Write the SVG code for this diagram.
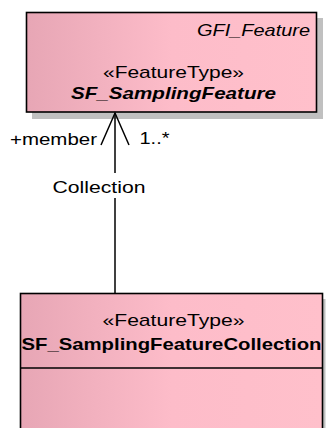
<svg xmlns="http://www.w3.org/2000/svg" width="327" height="428" viewBox="0 0 327 428">
<style>
.box{stroke:#000;stroke-width:1.6;fill:url(#pink)}
.shadow{fill:#c0c0c0}
.t{font-family:"Liberation Sans",Arial,sans-serif;font-size:17px;fill:#000}
.it{font-style:italic}
.b{font-weight:bold}
.conn{stroke:#000;stroke-width:1.5;fill:none}
</style>
<defs>
<linearGradient id="pink" x1="0" y1="0" x2="1" y2="0">
<stop offset="0" stop-color="#e7a6b5"/>
<stop offset="0.5" stop-color="#fdbcc9"/>
<stop offset="1" stop-color="#ffc0cb"/>
</linearGradient>
</defs>
<g id="SF_SamplingFeature">
<rect class="shadow" x="32" y="18" width="291" height="101"/>
<rect class="box" x="26.5" y="12.5" width="290" height="99.5"/>
<text class="t it" x="197" y="36" textLength="113" lengthAdjust="spacingAndGlyphs">GFI_Feature</text>
<text class="t" x="103" y="77.5" textLength="141" lengthAdjust="spacingAndGlyphs">«FeatureType»</text>
<text class="t b it" x="71" y="99" textLength="205" lengthAdjust="spacingAndGlyphs">SF_SamplingFeature</text>
</g>
<g id="SF_SamplingFeatureCollection">
<rect class="shadow" x="26" y="299" width="299.5" height="140"/>
<rect class="box" x="20.5" y="293.5" width="302" height="140"/>
<line x1="20.5" y1="368" x2="322.5" y2="368" stroke="#000" stroke-width="1.6"/>
<text class="t" x="102.5" y="325.5" textLength="142" lengthAdjust="spacingAndGlyphs">«FeatureType»</text>
<text class="t b" x="21.5" y="350" textLength="300" lengthAdjust="spacingAndGlyphs">SF_SamplingFeatureCollection</text>
</g>
<g id="connectors">
<line class="conn" x1="115" y1="113" x2="115" y2="173"/>
<line class="conn" x1="115" y1="198" x2="115" y2="293"/>
<path class="conn" d="M101,145 L115,113 L129,145"/>
<text class="t" x="10" y="144.5" textLength="87" lengthAdjust="spacingAndGlyphs">+member</text>
<text class="t" x="139.5" y="144" textLength="30" lengthAdjust="spacingAndGlyphs">1..*</text>
<text class="t" x="52.5" y="193" textLength="93" lengthAdjust="spacingAndGlyphs">Collection</text>
</g>
</svg>
